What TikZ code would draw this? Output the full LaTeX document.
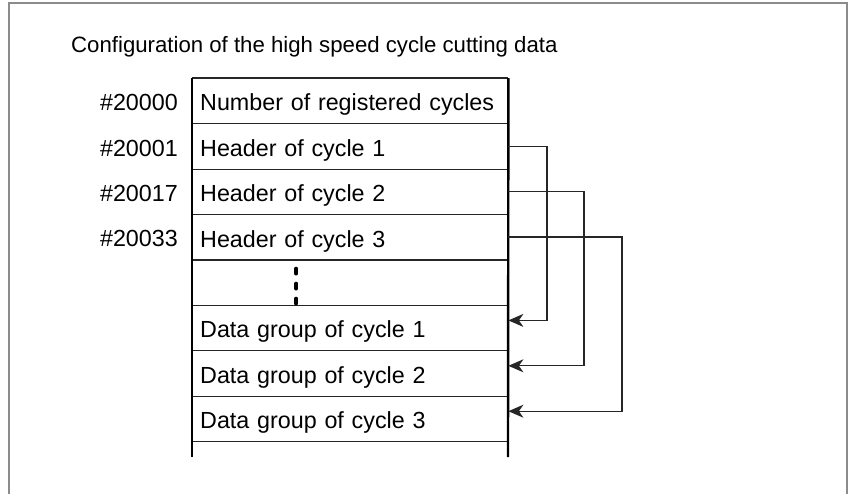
\documentclass[tikz,border=0pt]{standalone}
\usepackage{fontspec}
\setmainfont{Liberation Sans}
\usetikzlibrary{arrows.meta,calc}
\begin{document}
\begin{tikzpicture}[x=1pt,y=-1pt,
  txt/.style={font=\fontsize{23.3}{26}\selectfont, inner sep=0pt},
  cell/.style={txt, anchor=north west, minimum width=316pt, minimum height=45.4pt, text width=300pt, align=left, text depth=0pt, text height=20pt},
  addr/.style={txt, anchor=base east},
  rowline/.style={line width=1.3pt, draw=black!85},
  border/.style={line width=2.4pt},
  conn/.style={line width=1.3pt, draw=black!85},
  arr/.style={conn, -{Stealth[length=15pt,width=13pt,inset=4.5pt]}}
]
\useasboundingbox (0,0) rectangle (848,493);
% outer frame
\draw[line width=2pt, draw=black!45] (9,500) -- (9,3) -- (847,3) -- (847,500);
% title
\node[txt, font=\fontsize{22.2}{26}\selectfont, anchor=base west] (title) at (71,52) {Configuration of the high speed cycle cutting data};
% rows
\node[cell] (r0) at (192,78.0) {Number of registered cycles};
\node[cell] (r1) at (192,123.4) {Header of cycle 1};
\node[cell] (r2) at (192,168.8) {Header of cycle 2};
\node[cell] (r3) at (192,214.2) {Header of cycle 3};
\node[cell] (r4) at (192,259.6) {};
\node[cell] (r5) at (192,305.0) {Data group of cycle 1};
\node[cell] (r6) at (192,350.4) {Data group of cycle 2};
\node[cell] (r7) at (192,395.8) {Data group of cycle 3};
% row lines
\foreach \r in {0,...,7} \draw[rowline] (r\r.south west) -- (r\r.south east);
\draw[rowline] (r0.north west) -- (r0.north east);
% borders
\coordinate (bl) at (192,457);
\coordinate (br) at (508,457);
\draw[border] (r0.north west) -- (bl);
\draw[border] (r0.north east) -- (br);
% dots
\draw[line width=3.8pt, dash pattern=on 5pt off 10pt, line cap=round] ($(r4.north)+(-54,9)$) -- ($(r4.south)+(-54,0)$);
% addresses
\node[addr] (a0) at (178,110.7) {\#20000};
\node[addr] (a1) at (178,156.1) {\#20001};
\node[addr] (a2) at (178,201.5) {\#20017};
\node[addr] (a3) at (178,246.9) {\#20033};
% connectors
\coordinate (k1) at (547,0);
\coordinate (k2) at (584,0);
\coordinate (k3) at (622,0);
\coordinate (t1) at ($(r5.east)+(0,-7.5)$);
\coordinate (t2) at ($(r6.east)+(0,-7.5)$);
\coordinate (t3) at ($(r7.east)+(0,-7.5)$);
\draw[arr] (r1.east) -| (k1 |- t1) -- (t1);
\draw[arr] (r2.east) -| (k2 |- t2) -- (t2);
\draw[arr] (r3.east) -| (k3 |- t3) -- (t3);
\end{tikzpicture}
\end{document}
